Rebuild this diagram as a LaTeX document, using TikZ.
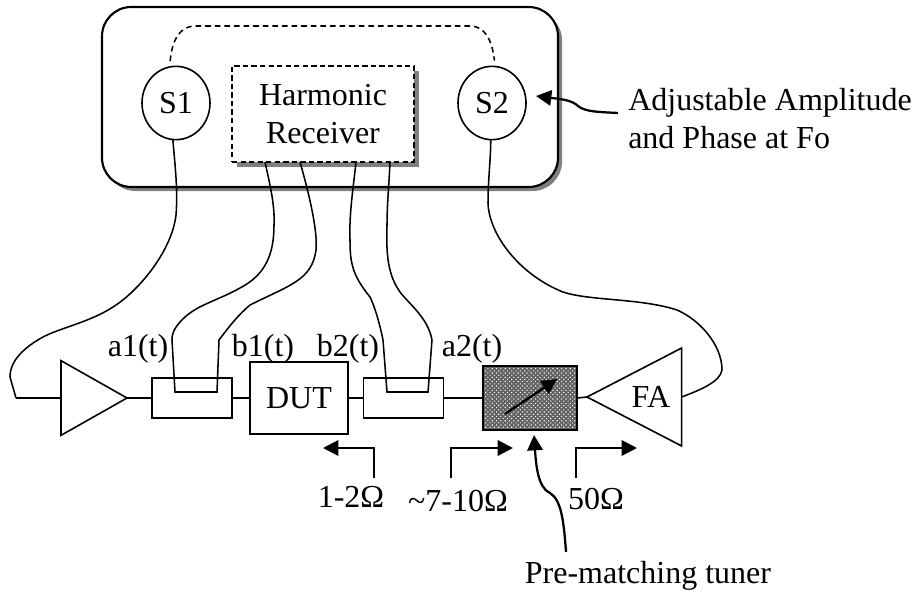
\documentclass[tikz,border=0pt]{standalone}
\usepackage{fontspec}
\setmainfont{Liberation Serif}
\usepackage{pgf,tikz}
\usetikzlibrary{shapes, arrows.meta, positioning, shadows, patterns.meta}
\tikzstyle{vnabox} = [draw, line width=1.6pt, rectangle, rounded corners=22pt, fill=white, outer sep=0pt, minimum width=342pt, minimum height=135pt, general shadow={fill=black!50, shadow xshift=3pt, shadow yshift=-3pt}]
\tikzstyle{port} = [draw, ellipse, line width=1.2pt, fill=white, inner sep=0pt, outer sep=0pt, minimum width=51pt, minimum height=55pt]
\tikzstyle{receiver} = [draw, dash pattern=on 4pt off 2.4pt, line width=1.2pt, rectangle, fill=white, align=center, inner sep=0pt, outer sep=0pt, minimum width=136.5pt, minimum height=72pt, general shadow={fill=black!50, shadow xshift=4pt, shadow yshift=-4pt}]
\tikzstyle{coupler} = [draw, line width=1.2pt, rectangle, fill=white, outer sep=0pt, minimum width=60pt, minimum height=30pt]
\tikzstyle{dut} = [draw, line width=1.2pt, rectangle, fill=white, outer sep=0pt, minimum width=73.5pt, minimum height=54pt]
\tikzstyle{tuner} = [draw, line width=1.4pt, rectangle, outer sep=0pt, minimum width=70.5pt, minimum height=48pt, preaction={fill=black!62}, pattern={Dots[radius=0.6pt, distance=2.3pt, angle=45]}, pattern color=white]
\tikzstyle{amp} = [draw, line width=1.2pt, isosceles triangle, isosceles triangle stretches, inner sep=0pt, outer sep=0pt, fill=white]
\tikzstyle{wire} = [line width=1.15pt]
\tikzstyle{pointer} = [line width=1.7pt, -{Triangle[length=11.5pt, width=11.5pt]}]
\tikzstyle{lbl} = [inner sep=0pt, anchor=base]
\begin{document}
\begin{tikzpicture}[x=0.75pt, y=-0.75pt, font=\fontsize{24}{28.5}\selectfont]
	\useasboundingbox (0,0) rectangle (913,592);
	\node [vnabox] (vna) at (330,97) {};
	\node [port] (S1) at (176,103) {S1};
	\node [port] (S2) at (492,103) {S2};
	\node [receiver] (rx) at (323,114) {Harmonic\\Receiver};
	\draw [wire, dash pattern=on 4.2pt off 3pt, shorten <=4.5pt, shorten >=4.5pt] (S1.100) .. controls (172,40) and (180,26) .. (195,26) -- (470,26) .. controls (485,26) and (492,40) .. (S2.85);
	\node [amp, minimum width=56pt, minimum height=49.5pt, anchor=apex] (drv) at (127,398) {};
	\node [coupler] (cpl1) at (192,398) {};
	\node [dut] (DUT) at (299,398) {DUT};
	\node [coupler] (cpl2) at (403.5,398) {};
	\node [tuner] (pm) at (530,398) {};
	\node [amp, shape border rotate=180, minimum width=73.5pt, minimum height=71pt, anchor=apex] (FA) at (587,397) {};
	\node [lbl] at (651,407) {FA};
	\coordinate (inlet) at (16,398);
	\coordinate (rx1) at (265,162);
	\coordinate (rx2) at (300,162);
	\coordinate (rx3) at (356,162);
	\coordinate (rx4) at (390,162);
	\draw [wire] (inlet) -- (drv.lower side);
	\draw [wire] (drv.apex) -- (cpl1.west);
	\draw [wire] (cpl1.east) -- (DUT.west);
	\draw [wire] (DUT.east) -- (cpl2.west);
	\draw [wire] (cpl2.east) -- (pm.west);
	\draw [wire] (pm.east) -- (FA.apex);
	\draw [wire] (S1.265) .. controls (175,165) and (178,190) .. (176,215) .. controls (172,250) and (140,290) .. (113,307) .. controls (90,322) and (60,328) .. (43,337) .. controls (25,347) and (10,360) .. (10,377) -- (inlet);
	\draw [wire] (S2.268) .. controls (491,155) and (488,180) .. (488,203) .. controls (489,235) and (520,275) .. (563,292) .. controls (590,301) and (640,298) .. (677,310) .. controls (700,320) and (722,345) .. (722,370) .. controls (720,382) and (700,390) .. (FA.lower side);
	\draw [wire] (rx1) .. controls (270,185) and (275,205) .. (274,225) .. controls (274,255) and (265,275) .. (240,288) .. controls (215,302) and (195,305) .. (180,322) .. controls (175,328) and (172,332) .. (172,340) -- (175,392) -- (217,392) -- (219,340) .. controls (228,328) and (238,315) .. (250,305) .. controls (290,285) and (312,280) .. (316,250) .. controls (318,230) and (308,190) .. (rx2);
	\draw [wire] (rx3) .. controls (353,190) and (349,215) .. (350,240) .. controls (350,262) and (352,275) .. (370,297) .. controls (375,307) and (380,325) .. (383,340) -- (387,392) -- (428,392) -- (432,340) .. controls (428,318) and (410,305) .. (400,292) .. controls (388,275) and (386,255) .. (387,225) .. controls (387,205) and (389,185) .. (rx4);
	\node [lbl] at (138,356) {a1(t)};
	\node [lbl] at (263,356) {b1(t)};
	\node [lbl] at (348,356) {b2(t)};
	\node [lbl] at (472,356) {a2(t)};
	\draw [pointer] (505,414) -- (557,379);
	\node [lbl] (zdut) at (351,507) {1-2Ω};
	\node [lbl] (zpre) at (458,511) {\textasciitilde7-10Ω};
	\node [lbl] (zload) at (596,509) {50Ω};
	\coordinate (zdutend) at (374,478);
	\coordinate (zpreend) at (451,478);
	\coordinate (zloadend) at (576,478);
	\draw [pointer] (zdutend) |- (323,448);
	\draw [pointer] (zpreend) |- (513,448);
	\draw [pointer] (zloadend) |- (637,448);
	\node [lbl] (pmtext) at (648,583) {Pre-matching tuner};
	\coordinate (pmstart) at (566,552);
	\draw [pointer] (pmstart) .. controls (564,525) and (562,500) .. (550,493) .. controls (538,488) and (536,465) .. (534,435);
	\node [inner sep=0pt, anchor=west, align=left] (adj) at (628,119) {Adjustable Amplitude\\and Phase at Fo};
	\coordinate (adjstart) at (618,113);
	\draw [pointer] (adjstart) .. controls (600,112) and (585,112) .. (578,106) .. controls (572,100) and (560,99) .. (536,96);
\end{tikzpicture}
\end{document}
